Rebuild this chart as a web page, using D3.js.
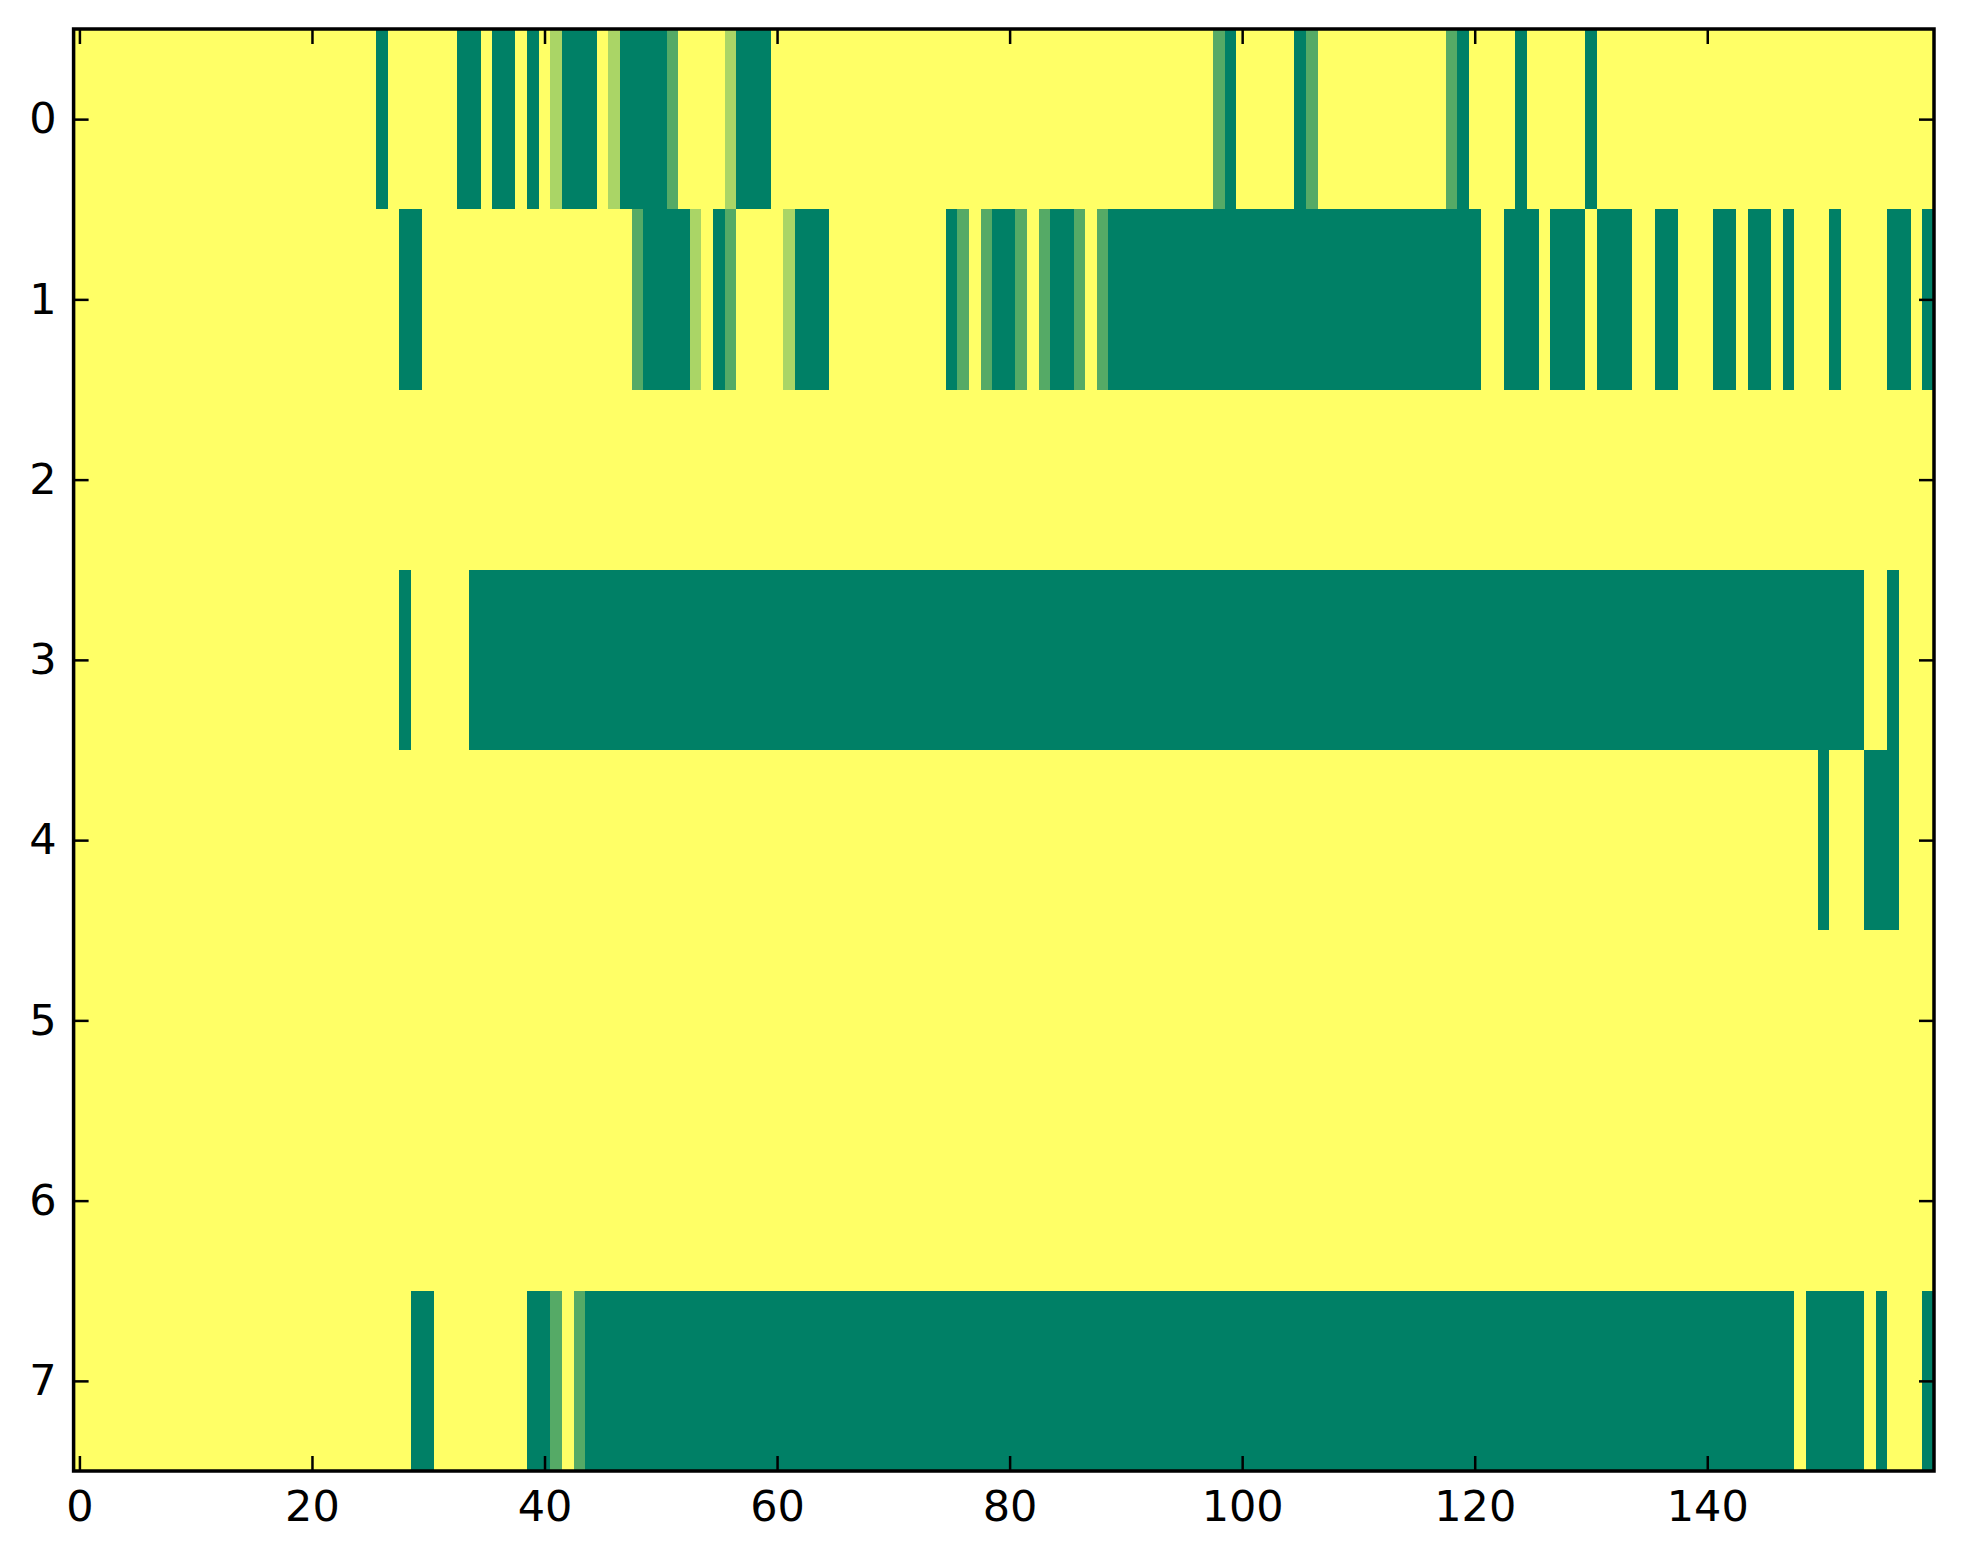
<!DOCTYPE html>
<html>
<head>
<meta charset="utf-8">
<script src="https://cdn.jsdelivr.net/npm/d3@7"></script>
<style>
  html, body { margin: 0; padding: 0; background: #ffffff; }
  svg { display: block; }
  text { font-family: "DejaVu Sans", sans-serif; }
</style>
</head>
<body>
<script>
// Levels per cell: 0 = lowest (dark green) ... 3 = highest (yellow); value = level / 3
const row0 = "3333333333" + "3333333333" + "3333330333" + "3330030030" + "3200032000" +
             "0133332000" + "3333333333" + "3333333333" + "3333333333" + "3333333310" +
             "3333301333" + "3333333310" + "3333033333" + "0333333333" + "3333333333" +
             "3333333333";
const row1 = "3333333333" + "3333333333" + "3333333300" + "3333333333" + "3333333310" +
             "0002301333" + "3200033333" + "3333301310" + "0131001310" + "0000000000" +
             "0000000000" + "0000000000" + "0330003000" + "3000330033" + "3003003033" +
             "3033330030";
const row2 = "3333333333" + "3333333333" + "3333333333" + "3333333333" + "3333333333" +
             "3333333333" + "3333333333" + "3333333333" + "3333333333" + "3333333333" +
             "3333333333" + "3333333333" + "3333333333" + "3333333333" + "3333333333" +
             "3333333333";
const row3 = "3333333333" + "3333333333" + "3333333303" + "3333000000" + "0000000000" +
             "0000000000" + "0000000000" + "0000000000" + "0000000000" + "0000000000" +
             "0000000000" + "0000000000" + "0000000000" + "0000000000" + "0000000000" +
             "0000330333";
const row4 = "3333333333" + "3333333333" + "3333333333" + "3333333333" + "3333333333" +
             "3333333333" + "3333333333" + "3333333333" + "3333333333" + "3333333333" +
             "3333333333" + "3333333333" + "3333333333" + "3333333333" + "3333333333" +
             "0333000333";
const row5 = "3333333333" + "3333333333" + "3333333333" + "3333333333" + "3333333333" +
             "3333333333" + "3333333333" + "3333333333" + "3333333333" + "3333333333" +
             "3333333333" + "3333333333" + "3333333333" + "3333333333" + "3333333333" +
             "3333333333";
const row6 = "3333333333" + "3333333333" + "3333333333" + "3333333333" + "3333333333" +
             "3333333333" + "3333333333" + "3333333333" + "3333333333" + "3333333333" +
             "3333333333" + "3333333333" + "3333333333" + "3333333333" + "3333333333" +
             "3333333333";
const row7 = "3333333333" + "3333333333" + "3333333330" + "0333333330" + "0131000000" +
             "0000000000" + "0000000000" + "0000000000" + "0000000000" + "0000000000" +
             "0000000000" + "0000000000" + "0000000000" + "0000000000" + "0000000030" +
             "0000303330";
const rows = [row0, row1, row2, row3, row4, row5, row6, row7];
const xTickValues = [0, 20, 40, 60, 80, 100, 120, 140];
const yTickValues = [0, 1, 2, 3, 4, 5, 6, 7];

const W = 1963, H = 1564;
const plot = { left: 73.6, right: 1934, top: 29, bottom: 1471 };
const nCols = row0.length;

const svg = d3.select("body").append("svg").attr("width", W).attr("height", H);

const x = d3.scaleLinear().domain([-0.5, nCols - 0.5]).range([plot.left, plot.right]);
const y = d3.scaleLinear().domain([-0.5, rows.length - 0.5]).range([plot.top, plot.bottom]);
// matplotlib "summer" colormap: linear in RGB from (0,0.5,0.4) to (1,1,0.4)
const color = d3.scaleLinear().domain([0, 1]).range(["#008066", "#ffff66"]);

const cells = [];
rows.forEach((s, r) => {
  for (let c = 0; c < s.length; c++) cells.push({ r, c, v: (+s[c]) / 3 });
});

svg.append("g").attr("shape-rendering", "crispEdges")
  .selectAll("rect").data(cells).join("rect")
  .attr("x", d => x(d.c - 0.5))
  .attr("y", d => y(d.r - 0.5))
  .attr("width", d => x(d.c + 0.5) - x(d.c - 0.5) + 0.6)
  .attr("height", d => y(d.r + 0.5) - y(d.r - 0.5) + 0.6)
  .attr("fill", d => color(d.v));

const tickLen = 15;
function styleAxis(g, showLabels) {
  g.select(".domain").remove();
  g.selectAll(".tick line").attr("stroke", "#000").attr("stroke-width", 2.5);
  g.selectAll(".tick text").attr("font-size", 43).attr("fill", "#000")
    .style("display", showLabels ? null : "none");
}

svg.append("g").attr("transform", `translate(0,${plot.bottom})`)
  .call(d3.axisBottom(x).tickValues(xTickValues).tickSizeInner(-tickLen).tickSizeOuter(0).tickPadding(19))
  .call(g => styleAxis(g, true));
svg.append("g").attr("transform", `translate(0,${plot.top})`)
  .call(d3.axisTop(x).tickValues(xTickValues).tickSizeInner(-tickLen).tickSizeOuter(0))
  .call(g => styleAxis(g, false));
svg.append("g").attr("transform", `translate(${plot.left},0)`)
  .call(d3.axisLeft(y).tickValues(yTickValues).tickSizeInner(-tickLen).tickSizeOuter(0).tickPadding(17))
  .call(g => styleAxis(g, true));
svg.append("g").attr("transform", `translate(${plot.right},0)`)
  .call(d3.axisRight(y).tickValues(yTickValues).tickSizeInner(-tickLen).tickSizeOuter(0))
  .call(g => styleAxis(g, false));

svg.append("rect")
  .attr("x", plot.left).attr("y", plot.top)
  .attr("width", plot.right - plot.left).attr("height", plot.bottom - plot.top)
  .attr("fill", "none").attr("stroke", "#000").attr("stroke-width", 3.5);
</script>
</body>
</html>
